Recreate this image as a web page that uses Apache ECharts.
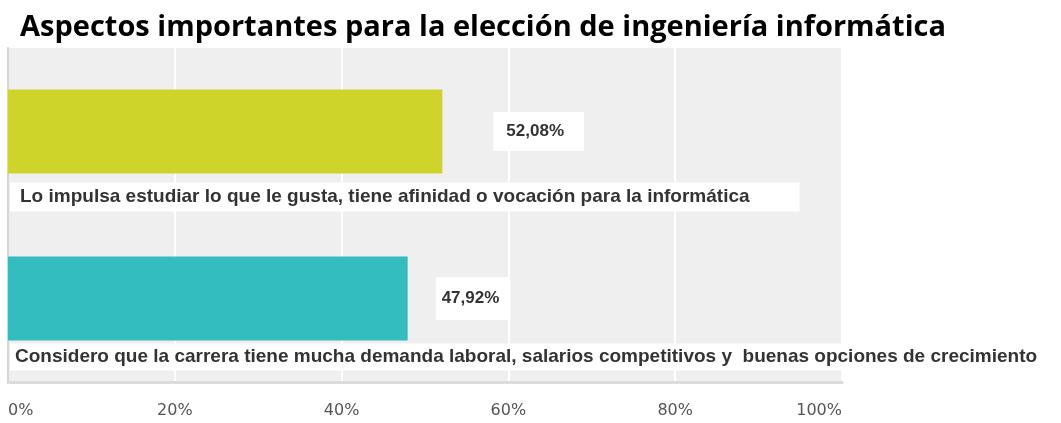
<!DOCTYPE html>
<html>
<head>
<meta charset="utf-8">
<script src="https://cdn.jsdelivr.net/npm/echarts@6/dist/echarts.min.js"></script>
<style>
  html, body { margin: 0; padding: 0; background: #fff; }
  #chart { width: 1061px; height: 423px; }
</style>
</head>
<body>
<div id="chart"></div>
<script>
const titleText = "Aspectos importantes para la elección de ingeniería informática"
const categories = [
  "Lo impulsa estudiar lo que le gusta, tiene afinidad o vocación para la informática",
  "Considero que la carrera tiene mucha demanda laboral, salarios competitivos y  buenas opciones de crecimiento",
]
const values = [52.08, 47.92]
const barColors = ["#cfd42a", "#34bdbf"]
const axisMin = 0
const axisMax = 100
const axisStep = 20

const fmtPct = (v) => v.toFixed(2).replace(".", ",") + "%"

// label boxes differ a bit between the two bars in the original
const valueBox = [
  { distance: 51, padding: [11, 20, 11, 13], offset: [0, 0] },
  { distance: 28, padding: [13, 11, 13, 6], offset: [0, 0] },
]
const nameBox = [
  { padding: [5, 50, 5, 10], offset: [0, 9] },
  { padding: [4, 30, 4, 5], offset: [0, 3] },
]

const chart = echarts.init(document.getElementById("chart"))

const option = {
  backgroundColor: "#ffffff",
  animation: false,
  title: {
    text: titleText,
    left: 15,
    top: 8,
    textStyle: {
      fontFamily: "Open Sans",
      fontWeight: "bold",
      fontSize: 29,
      color: "#000000",
    },
  },
  grid: {
    left: 8,
    right: 219,
    top: 48,
    bottom: 41,
    show: true,
    backgroundColor: "#efefef",
    borderWidth: 0,
  },
  xAxis: {
    type: "value",
    min: axisMin,
    max: axisMax,
    interval: axisStep,
    axisLine: { show: true, lineStyle: { color: "#dcdcdc", width: 3 } },
    axisTick: { show: false },
    splitLine: { show: true, lineStyle: { color: "#ffffff", width: 2 } },
    axisLabel: {
      margin: 21,
      color: "#555555",
      fontFamily: "DejaVu Sans",
      fontSize: 16,
      formatter: "{value}%",
      alignMinLabel: "left",
      alignMaxLabel: "right",
    },
  },
  yAxis: {
    type: "category",
    inverse: true,
    data: categories,
    axisLine: { show: true, lineStyle: { color: "#d6d6d6", width: 2 } },
    axisTick: { show: false },
    axisLabel: { show: false },
    splitLine: { show: false },
  },
  series: [
    {
      name: "valor",
      type: "bar",
      barWidth: 84,
      z: 3,
      data: values.map((v, i) => ({
        value: v,
        itemStyle: { color: barColors[i] },
        label: {
          show: true,
          position: "right",
          distance: valueBox[i].distance,
          offset: valueBox[i].offset,
          padding: valueBox[i].padding,
          backgroundColor: "#ffffff",
          color: "#333333",
          fontFamily: "Liberation Sans",
          fontWeight: "bold",
          fontSize: 17,
          formatter: () => fmtPct(v),
        },
      })),
    },
    {
      name: "nombre",
      type: "bar",
      barWidth: 84,
      barGap: "-100%",
      silent: true,
      z: 4,
      itemStyle: { color: "rgba(0,0,0,0)" },
      data: values.map((v, i) => ({
        value: v,
        label: {
          show: true,
          position: [2, "100%"],
          offset: nameBox[i].offset,
          padding: nameBox[i].padding,
          backgroundColor: "#ffffff",
          color: "#333333",
          fontFamily: "Liberation Sans",
          fontWeight: "bold",
          fontSize: 19,
          formatter: "{b}",
        },
      })),
    },
  ],
}

chart.setOption(option)
</script>
</body>
</html>
